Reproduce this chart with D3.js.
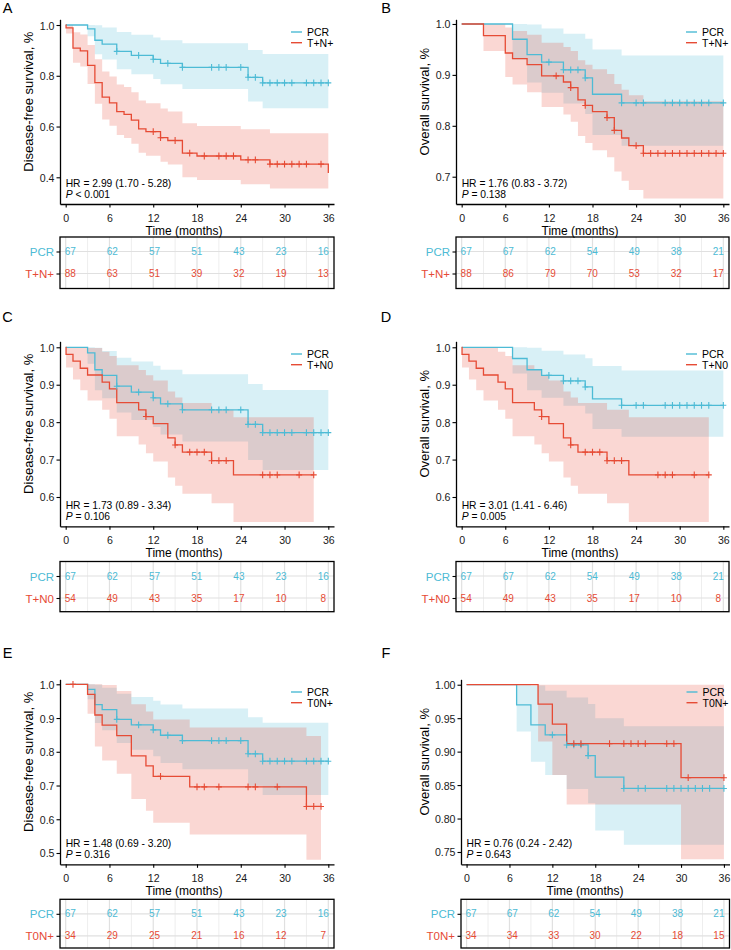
<!DOCTYPE html>
<html><head><meta charset="utf-8">
<script src="https://cdn.jsdelivr.net/npm/d3@7"></script>
<style>body{margin:0;background:#fff} svg{display:block}</style>
</head><body>
<script>
// ================= DATA =================
const monthTicks = [0, 6, 12, 18, 24, 30, 36];

// PCR – disease-free survival (A, C, E)
const pcrDfsTime   = [0, 3, 4, 5, 7, 9, 12, 13, 16, 25, 27, 36];
const pcrDfsSurv   = [1, 0.985, 0.940, 0.925, 0.896, 0.880, 0.865, 0.849, 0.833, 0.794, 0.772, 0.772];
const pcrDfsLower  = [1, 0.956, 0.885, 0.864, 0.826, 0.806, 0.787, 0.767, 0.748, 0.699, 0.672, 0.672];
const pcrDfsUpper  = [1, 1, 0.999, 0.990, 0.972, 0.962, 0.951, 0.940, 0.928, 0.902, 0.886, 0.886];
const pcrDfsCensor = [7, 10, 12, 14, 16, 20, 21, 22, 24, 25, 26, 27, 28, 29, 30, 31, 33, 34, 35, 36];

// PCR – overall survival (B, D, F)
const pcrOsTime   = [0, 7, 9, 11, 14, 17, 18, 22, 36];
const pcrOsSurv   = [1, 0.970, 0.940, 0.925, 0.910, 0.894, 0.862, 0.845, 0.845];
const pcrOsLower  = [1, 0.930, 0.885, 0.865, 0.844, 0.823, 0.782, 0.761, 0.761];
const pcrOsUpper  = [1, 1, 0.999, 0.991, 0.981, 0.971, 0.950, 0.938, 0.938];
const pcrOsCensor = [12, 14, 15, 16, 17, 22, 24, 25, 28, 29, 30, 31, 32, 33, 34, 36];

// T+N+ – disease-free survival (A)
const tnpDfsTime   = [0, 0.05, 1, 2, 3, 4, 5, 6, 7, 8, 9, 10, 11, 13, 14, 16, 18, 24, 28, 36];
const tnpDfsSurv   = [1, 0.989, 0.909, 0.898, 0.841, 0.773, 0.716, 0.693, 0.659, 0.648, 0.625, 0.591, 0.580, 0.556, 0.545, 0.495, 0.484, 0.469, 0.452, 0.417];
const tnpDfsLower  = [1, 0.967, 0.851, 0.837, 0.768, 0.690, 0.628, 0.603, 0.567, 0.555, 0.532, 0.497, 0.485, 0.461, 0.450, 0.400, 0.389, 0.373, 0.356, 0.356];
const tnpDfsUpper  = [1, 1, 0.971, 0.963, 0.921, 0.865, 0.817, 0.797, 0.766, 0.756, 0.735, 0.703, 0.692, 0.671, 0.659, 0.613, 0.602, 0.589, 0.574, 0.574];
const tnpDfsCensor = [12, 13, 15, 17, 19, 21, 22, 23, 25, 26, 28, 29, 30, 31, 32, 33, 35];

// T+N+ – overall survival (B)
const tnpOsTime   = [0, 3, 6, 7, 9, 11, 14, 15, 16, 17, 18, 20, 21, 22, 23, 25, 36];
const tnpOsSurv   = [1, 0.977, 0.943, 0.932, 0.920, 0.898, 0.886, 0.875, 0.851, 0.840, 0.828, 0.816, 0.791, 0.776, 0.761, 0.746, 0.746];
const tnpOsLower  = [1, 0.947, 0.896, 0.881, 0.866, 0.837, 0.822, 0.808, 0.780, 0.766, 0.752, 0.738, 0.710, 0.692, 0.674, 0.657, 0.657];
const tnpOsUpper  = [1, 1, 0.993, 0.986, 0.979, 0.963, 0.955, 0.947, 0.929, 0.920, 0.911, 0.902, 0.882, 0.871, 0.860, 0.848, 0.848];
const tnpOsCensor = [13, 15, 17, 20, 21, 24, 25, 26, 27, 28, 29, 30, 31, 32, 33, 34, 35, 36];

// T+N0 – same curve in disease-free (C) and overall survival (D)
const tn0Time   = [0, 0.05, 1, 2, 3, 5, 6, 7, 10, 11, 12, 14, 15, 16, 20, 23, 34];
const tn0Surv   = [1, 0.981, 0.963, 0.944, 0.926, 0.907, 0.889, 0.852, 0.833, 0.815, 0.796, 0.758, 0.739, 0.720, 0.697, 0.659, 0.659];
const tn0Lower  = [1, 0.946, 0.914, 0.885, 0.858, 0.833, 0.809, 0.762, 0.740, 0.717, 0.695, 0.652, 0.630, 0.609, 0.583, 0.533, 0.533];
const tn0Upper  = [1, 1, 1, 1, 0.998, 0.988, 0.977, 0.952, 0.939, 0.925, 0.911, 0.882, 0.866, 0.851, 0.833, 0.813, 0.813];
const tn0Censor = [11, 15, 17, 18, 19, 20, 21, 22, 27, 28, 29, 32, 34];

// T0N+ – disease-free survival (E)
const t0nDfsTime   = [0, 3, 4, 5, 7, 9, 11, 12, 17, 33, 35];
const t0nDfsSurv   = [1, 0.970, 0.909, 0.879, 0.848, 0.788, 0.758, 0.727, 0.696, 0.638, 0.638];
const t0nDfsLower  = [1, 0.913, 0.816, 0.774, 0.735, 0.660, 0.625, 0.590, 0.555, 0.480, 0.480];
const t0nDfsUpper  = [1, 1, 1, 0.998, 0.980, 0.941, 0.919, 0.896, 0.872, 0.847, 0.847];
const t0nDfsCensor = [1, 13, 18, 19, 21, 25, 26, 29, 33, 34, 35];

// T0N+ – overall survival (F)
const t0nOsTime   = [0, 10, 12, 14, 30, 36];
const t0nOsSurv   = [1, 0.971, 0.941, 0.912, 0.861, 0.861];
const t0nOsLower  = [1, 0.915, 0.865, 0.821, 0.739, 0.739];
const t0nOsUpper  = [1, 1, 1, 1, 1, 1];
const t0nOsCensor = [15, 16, 20, 22, 23, 24, 25, 28, 29, 31, 36];

// Numbers at risk (at 0, 6, ..., 36 months)
const riskPcrDfs = [67, 62, 57, 51, 43, 23, 16];
const riskPcrOs  = [67, 67, 62, 54, 49, 38, 21];
const riskTnpDfs = [88, 63, 51, 39, 32, 19, 13];
const riskTnpOs  = [88, 86, 79, 70, 53, 32, 17];
const riskTn0Dfs = [54, 49, 43, 35, 17, 10, 8];
const riskTn0Os  = [54, 49, 43, 35, 17, 10, 8];
const riskT0nDfs = [34, 29, 25, 21, 16, 12, 7];
const riskT0nOs  = [34, 34, 33, 30, 22, 18, 15];

// Y-axis tick labels
const yTicksA = [0.4, 0.6, 0.8, 1.0];
const yTicksB = [0.7, 0.8, 0.9, 1.0];
const yTicksC = [0.6, 0.7, 0.8, 0.9, 1.0];
const yTicksD = [0.6, 0.7, 0.8, 0.9, 1.0];
const yTicksE = [0.5, 0.6, 0.7, 0.8, 0.9, 1.0];
const yTicksF = [0.75, 0.80, 0.85, 0.90, 0.95, 1.00];

const hrLabels = ["HR = 2.99 (1.70 - 5.28)", "HR = 1.76 (0.83 - 3.72)", "HR = 1.73 (0.89 - 3.34)",
                  "HR = 3.01 (1.41 - 6.46)", "HR = 1.48 (0.69 - 3.20)", "HR = 0.76 (0.24 - 2.42)"];
const pLabels  = [" < 0.001", " = 0.138", " = 0.106", " = 0.005", " = 0.316", " = 0.643"];

// ================= BUILD =================
const mk = (t, s, lo, hi, c) => ({time: t, surv: s, lower: lo, upper: hi, censor: c});
const pcrDfs = mk(pcrDfsTime, pcrDfsSurv, pcrDfsLower, pcrDfsUpper, pcrDfsCensor);
const pcrOs  = mk(pcrOsTime, pcrOsSurv, pcrOsLower, pcrOsUpper, pcrOsCensor);
const tnpDfs = mk(tnpDfsTime, tnpDfsSurv, tnpDfsLower, tnpDfsUpper, tnpDfsCensor);
const tnpOs  = mk(tnpOsTime, tnpOsSurv, tnpOsLower, tnpOsUpper, tnpOsCensor);
const tn0    = mk(tn0Time, tn0Surv, tn0Lower, tn0Upper, tn0Censor);
const t0nDfs = mk(t0nDfsTime, t0nDfsSurv, t0nDfsLower, t0nDfsUpper, t0nDfsCensor);
const t0nOs  = mk(t0nOsTime, t0nOsSurv, t0nOsLower, t0nOsUpper, t0nOsCensor);

const BLUE = "#4DBBD5", RED = "#E64B35";
const FONT = '"Liberation Sans", Arial, Helvetica, sans-serif';
const DFS = "Disease-free survival, %", OS = "Overall survival, %";

const cols = [
  {axisX: 60,  right: 334, titleX: 28.5,  letterX: 7.5},
  {axisX: 456, right: 729, titleX: 424.5, letterX: 386}
];
const rows = [
  {top: 19.3,  bottom: 204,   boxTop: 237,   boxBottom: 288.5, letterY: 7.5},
  {top: 341.3, bottom: 526.3, boxTop: 561.5, boxBottom: 611.7, letterY: 316.5},
  {top: 679.3, bottom: 864.3, boxTop: 899.3, boxBottom: 948,   letterY: 653}
];

const panels = [
  {letter: "A", c: 0, r: 0, yTitle: DFS, yDomain: [0.2948, 1.0225], yTicks: yTicksA, fmt: ".1f",
   pcr: pcrDfs, other: tnpDfs, name: "T+N+", riskP: riskPcrDfs, riskO: riskTnpDfs},
  {letter: "B", c: 1, r: 0, yTitle: OS, yDomain: [0.6464, 1.0092], yTicks: yTicksB, fmt: ".1f",
   pcr: pcrOs, other: tnpOs, name: "T+N+", riskP: riskPcrOs, riskO: riskTnpOs},
  {letter: "C", c: 0, r: 1, yTitle: DFS, yDomain: [0.5217, 1.016], yTicks: yTicksC, fmt: ".1f",
   pcr: pcrDfs, other: tn0, name: "T+N0", riskP: riskPcrDfs, riskO: riskTn0Dfs},
  {letter: "D", c: 1, r: 1, yTitle: OS, yDomain: [0.5217, 1.016], yTicks: yTicksD, fmt: ".1f",
   pcr: pcrOs, other: tn0, name: "T+N0", riskP: riskPcrOs, riskO: riskTn0Os},
  {letter: "E", c: 0, r: 2, yTitle: DFS, yDomain: [0.4665, 1.0148], yTicks: yTicksE, fmt: ".1f",
   pcr: pcrDfs, other: t0nDfs, name: "T0N+", riskP: riskPcrDfs, riskO: riskT0nDfs},
  {letter: "F", c: 1, r: 2, yTitle: OS, yDomain: [0.7316, 1.0081], yTicks: yTicksF, fmt: ".2f",
   pcr: pcrOs, other: t0nOs, name: "T0N+", riskP: riskPcrOs, riskO: riskT0nOs, axisX: 461, right: 729.5}
];

const svg = d3.select("body").append("svg")
  .attr("width", 731).attr("height", 950)
  .style("font-family", FONT);

function txt(g, x, y, s, o = {}) {
  return g.append("text")
    .attr("x", x).attr("y", y)
    .attr("text-anchor", o.anchor || "start")
    .attr("dominant-baseline", "central")
    .attr("font-size", o.size || 10)
    .attr("fill", o.fill || "#000")
    .text(s);
}

function survAt(d, t) {
  const i = Math.max(0, d3.bisectRight(d.time, t) - 1);
  return d.surv[i];
}

panels.forEach((p, pi) => {
  const col = cols[p.c], row = rows[p.r];
  const axisX = p.axisX !== undefined ? p.axisX : col.axisX;
  const right = p.right !== undefined ? p.right : col.right;
  const x = d3.scaleLinear().domain([-0.78, 36.78]).range([axisX, right]);
  const y = d3.scaleLinear().domain(p.yDomain).range([row.bottom, row.top]);
  const g = svg.append("g");

  const series = [{d: p.pcr, color: BLUE, name: "PCR", risk: p.riskP},
                  {d: p.other, color: RED, name: p.name, risk: p.riskO}];

  // confidence bands
  series.forEach(s => {
    const pts = s.d.time.map((t, i) => ({t, lo: s.d.lower[i], hi: s.d.upper[i]}));
    g.append("path")
      .attr("d", d3.area().curve(d3.curveStepAfter)
        .x(d => x(d.t)).y0(d => y(d.lo)).y1(d => y(d.hi))(pts))
      .attr("fill", s.color).attr("fill-opacity", 0.22).attr("stroke", "none");
  });
  // survival curves
  series.forEach(s => {
    const pts = s.d.time.map((t, i) => ({t, v: s.d.surv[i]}));
    g.append("path")
      .attr("d", d3.line().curve(d3.curveStepAfter).x(d => x(d.t)).y(d => y(d.v))(pts))
      .attr("fill", "none").attr("stroke", s.color).attr("stroke-width", 1.3);
  });
  // censor marks
  series.forEach(s => {
    g.append("g").selectAll("path").data(s.d.censor).join("path")
      .attr("transform", c => `translate(${x(c)},${y(survAt(s.d, c))})`)
      .attr("d", "M-3,0H3M0,-3.4V3.4")
      .attr("stroke", s.color).attr("stroke-width", 1.1).attr("fill", "none");
  });

  // axes
  const xa = g.append("g").attr("transform", `translate(0,${row.bottom})`)
    .call(d3.axisBottom(x).tickValues(monthTicks).tickSize(3.5).tickSizeOuter(0));
  const ya = g.append("g").attr("transform", `translate(${axisX},0)`)
    .call(d3.axisLeft(y).tickValues(p.yTicks).tickFormat(d3.format(p.fmt)).tickSize(3.5).tickSizeOuter(0));
  [xa, ya].forEach(a => {
    a.attr("font-family", FONT).attr("font-size", 10.6);
    a.select(".domain").attr("stroke-width", 1.3);
    a.selectAll(".tick line").attr("stroke-width", 1.1);
  });
  xa.selectAll(".tick text").attr("y", 13.5).attr("dy", null)
    .attr("dominant-baseline", "central").attr("fill", "#1a1a1a");
  ya.selectAll(".tick text").attr("x", -5.5).attr("dy", null)
    .attr("dominant-baseline", "central").attr("fill", "#1a1a1a");

  // axis titles
  txt(g, axisX + 124, row.bottom + 27, "Time (months)", {anchor: "middle", size: 12});
  g.append("text")
    .attr("transform", `translate(${col.titleX},${(row.top + row.bottom) / 2 - 10}) rotate(-90)`)
    .attr("text-anchor", "middle").attr("dominant-baseline", "central")
    .attr("font-size", 13).attr("fill", "#000").text(p.yTitle);

  // legend
  series.forEach((s, i) => {
    const ly = row.top + 12.7 + i * 10.7;
    g.append("line").attr("x1", right - 43).attr("x2", right - 32).attr("y1", ly).attr("y2", ly)
      .attr("stroke", s.color).attr("stroke-width", 1.4);
    txt(g, right - 27, ly, s.name, {size: 10.5});
  });

  // HR & P
  txt(g, x(0), row.bottom - 21, hrLabels[pi], {size: 10.3});
  const pt = txt(g, x(0), row.bottom - 10.5, "", {size: 10.3});
  pt.append("tspan").attr("font-style", "italic").text("P");
  pt.append("tspan").text(pLabels[pi]);

  // panel letter
  txt(svg, col.letterX, row.letterY, p.letter, {anchor: "middle", size: 14.5});

  // ---- risk table ----
  const ry = d3.scalePoint().domain(["PCR", p.name])
    .range([row.boxTop + 14.5, row.boxTop + 36.5]);
  const rt = g.append("g");
  const minorTicks = monthTicks.slice(0, 6).map(t => t + 3);
  rt.selectAll("line.minor").data(minorTicks).join("line")
    .attr("x1", d => x(d)).attr("x2", d => x(d))
    .attr("y1", row.boxTop).attr("y2", row.boxBottom)
    .attr("stroke", "#eeeeee").attr("stroke-width", 1);
  rt.selectAll("line.major").data(monthTicks).join("line")
    .attr("x1", d => x(d)).attr("x2", d => x(d))
    .attr("y1", row.boxTop).attr("y2", row.boxBottom)
    .attr("stroke", "#e0e0e0").attr("stroke-width", 1.2);
  rt.selectAll("line.hrow").data(ry.domain()).join("line")
    .attr("x1", axisX).attr("x2", right)
    .attr("y1", d => ry(d)).attr("y2", d => ry(d))
    .attr("stroke", "#e0e0e0").attr("stroke-width", 1.2);

  const xt = d3.scaleLinear().domain([0, 36]).range([x(0) + 4.5, x(36) - 5]);
  series.forEach(s => {
    rt.append("g").selectAll("text").data(s.risk).join("text")
      .attr("x", (d, i) => xt(monthTicks[i])).attr("y", ry(s.name))
      .attr("text-anchor", "middle").attr("dominant-baseline", "central")
      .attr("font-size", 10).attr("fill", s.color).text(d => d);
  });
  rt.append("rect")
    .attr("x", axisX).attr("y", row.boxTop)
    .attr("width", right - axisX).attr("height", row.boxBottom - row.boxTop)
    .attr("fill", "none").attr("stroke", "#000").attr("stroke-width", 1.3);
  const ra = rt.append("g").attr("transform", `translate(${axisX},0)`)
    .call(d3.axisLeft(ry).tickSize(3.5).tickSizeOuter(0));
  ra.select(".domain").remove();
  ra.attr("font-family", FONT).attr("font-size", 11.5);
  ra.selectAll(".tick line").attr("stroke-width", 1.1);
  ra.selectAll(".tick text").attr("x", -6).attr("dy", null)
    .attr("dominant-baseline", "central")
    .attr("fill", (d, i) => series[i].color);
});
</script>
</body></html>
